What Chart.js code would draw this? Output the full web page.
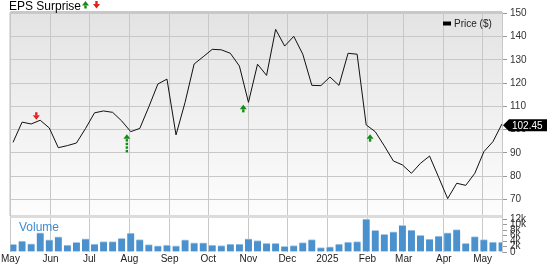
<!DOCTYPE html>
<html>
<head>
<meta charset="utf-8">
<style>
html, body { margin: 0; padding: 0; background: #fff; }
#wrap { width: 547px; height: 264px; }
</style>
</head>
<body>
<div id="wrap"><canvas id="myChart" width="547" height="264"></canvas></div>
<script src="https://cdn.jsdelivr.net/npm/chart.js@4/dist/chart.umd.min.js"></script>
<script>
// Weekly closing price and volume, May 2024 - May 2025
const startDate = '2024-05-01';
const firstWeek = '2024-05-03';
const prices = [94.5, 103.2, 102.4, 104.0, 100.7, 92.2, 93.1, 94.2, 100.4, 107.2,
    108.0, 107.4, 103.7, 99.1, 100.5, 109.8, 119.6, 121.7, 97.7, 111.7,
    128.2, 131.3, 134.5, 134.3, 132.8, 127.3, 111.7, 128.1, 123.3, 143.1,
    135.9, 140.1, 132.4, 119.0, 118.9, 122.6, 119.0, 132.8, 132.4, 102.0,
    99.1, 93.0, 86.5, 84.8, 81.2, 85.5, 88.6, 79.5, 70.3, 76.9,
    76.0, 81.2, 90.5, 94.8, 102.45];
const volumes = [2.8, 4.0, 3.0, 7.0, 4.4, 5.5, 2.5, 3.5, 4.8, 2.9,
    3.8, 3.8, 5.0, 6.9, 4.5, 2.7, 2.2, 2.5, 2.2, 4.4,
    3.3, 3.3, 2.5, 2.3, 2.9, 2.9, 4.8, 4.2, 3.2, 3.2,
    2.1, 2.3, 3.4, 4.5, 1.6, 1.9, 2.9, 3.6, 3.8, 12.0,
    7.9, 6.4, 7.3, 9.7, 8.0, 6.1, 4.7, 5.8, 7.0, 8.2,
    3.2, 5.6, 4.5, 3.6, 3.6];

// Axis ticks
const monthStarts = ['2024-05-01', '2024-06-01', '2024-07-01', '2024-08-01', '2024-09-01', '2024-10-01',
    '2024-11-01', '2024-12-01', '2025-01-01', '2025-02-01', '2025-03-01', '2025-04-01', '2025-05-01'];
const monthLabels = ['May', 'Jun', 'Jul', 'Aug', 'Sep', 'Oct', 'Nov', 'Dec', '2025', 'Feb', 'Mar', 'Apr', 'May'];
const priceTicks = [70, 80, 90, 100, 110, 120, 130, 140, 150];
const volumeTicks = [0, 2, 4, 6, 8, 10, 12];

// Earnings reports
const epsDates = ['2024-05-21', '2024-07-30', '2024-10-28', '2025-02-03'];
const epsResults = ['miss', 'beat', 'beat', 'beat'];
const epsDashed = [false, true, false, false];

const FONT = 'Arial, "Liberation Sans", sans-serif';
const GREEN = '#128c12';
const RED = '#e3201b';

// Days since start of the chart
function dayOf(d) {
    return (Date.parse(d) - Date.parse(startDate)) / 86400000;
}

const weekDays = prices.map((p, i) => dayOf(firstWeek) + 7 * i);
const monthDays = monthStarts.map(dayOf);

function drawArrow(c, x, tipY, up, color, dashed) {
    const dir = up ? 1 : -1;
    c.save();
    c.fillStyle = color;
    c.beginPath();
    c.moveTo(x, tipY);
    c.lineTo(x + 3.5, tipY + dir * 4.5);
    c.lineTo(x - 3.5, tipY + dir * 4.5);
    c.closePath();
    c.fill();
    if (dashed) {
        for (let k = 0; k < 4; k++) {
            const y0 = tipY + dir * (5 + k * 3.6);
            c.fillRect(x - 1.2, up ? y0 : y0 - 2.4, 2.4, 2.4);
        }
    } else {
        const y0 = tipY + dir * 4.5;
        c.fillRect(x - 1.2, up ? y0 : y0 - 3, 2.4, 3);
    }
    c.restore();
}

// Backgrounds, borders and overlays
const decorations = {
    id: 'decorations',
    beforeDraw(chart) {
        const c = chart.ctx;
        const a = chart.chartArea;
        const y = chart.scales.y;
        c.save();
        c.fillStyle = '#fff';
        c.fillRect(0, 0, chart.width, chart.height);
        const g = c.createLinearGradient(0, y.top, 0, y.bottom);
        g.addColorStop(0, '#e3e3e3');
        g.addColorStop(1, '#fdfdfd');
        c.fillStyle = g;
        c.fillRect(a.left, y.top, a.right - a.left, y.bottom - y.top);
        c.restore();
    },
    beforeDatasetsDraw(chart) {
        const c = chart.ctx;
        const a = chart.chartArea;
        const y = chart.scales.y;
        c.save();
        c.fillStyle = '#dcdcdc';
        c.fillRect(a.left, y.bottom - 1, a.right - a.left, 3);
        c.fillStyle = '#c8c8c8';
        c.fillRect(a.left, a.top - 1, a.right - a.left, 2);
        c.fillRect(a.left - 1, a.top, 1.5, y.bottom - a.top);
        // Volume label
        c.fillStyle = '#3f8ccf';
        c.font = '12px ' + FONT;
        c.textBaseline = 'alphabetic';
        c.fillText('Volume', 19, 231);
        c.restore();
    },
    afterDraw(chart) {
        const c = chart.ctx;
        const x = chart.scales.x;
        const y = chart.scales.y;
        c.save();
        // Title
        c.fillStyle = '#000';
        c.font = '12px ' + FONT;
        c.textBaseline = 'alphabetic';
        c.fillText('EPS Surprise', 9, 10);
        drawArrow(c, 85.5, 1, true, GREEN, false);
        drawArrow(c, 96.5, 8.5, false, RED, false);

        // Legend
        c.fillStyle = '#000';
        c.fillRect(443, 21.5, 8, 4);
        c.fillStyle = '#222';
        c.font = '10px ' + FONT;
        c.textBaseline = 'middle';
        c.fillText('Price ($)', 454, 24);

        // Last price tag
        const last = prices[prices.length - 1];
        const ly = y.getPixelForValue(last) + 1.5;
        c.fillStyle = '#000';
        c.beginPath();
        c.moveTo(503, ly);
        c.lineTo(509, ly - 6);
        c.lineTo(547, ly - 6);
        c.lineTo(547, ly + 6);
        c.lineTo(509, ly + 6);
        c.closePath();
        c.fill();
        c.fillStyle = '#fff';
        c.font = '10px ' + FONT;
        c.fillText(last.toFixed(2), 512, ly + 0.5);

        // Earnings arrows
        epsDates.forEach((d, k) => {
            const day = dayOf(d);
            let i = 0;
            while (i < weekDays.length - 2 && weekDays[i + 1] <= day) i++;
            const p1 = y.getPixelForValue(prices[i]);
            const p2 = y.getPixelForValue(prices[i + 1]);
            const px = x.getPixelForValue(day);
            if (epsResults[k] === 'beat') {
                drawArrow(c, px, Math.max(p1, p2) + 2.5, true, GREEN, epsDashed[k]);
            } else {
                drawArrow(c, px, Math.min(p1, p2) - 0.5, false, RED, false);
            }
        });
        c.restore();
    }
};

const ctx = document.getElementById('myChart').getContext('2d');

const myChart = new Chart(ctx, {
    data: {
        datasets: [{
            type: 'line',
            data: weekDays.map((d, i) => ({ x: d, y: prices[i] })),
            yAxisID: 'y',
            borderColor: '#111',
            borderWidth: 1,
            pointRadius: 0,
            tension: 0,
            order: 0
        }, {
            type: 'bar',
            data: weekDays.map((d, i) => ({ x: d, y: volumes[i] })),
            yAxisID: 'yv',
            backgroundColor: '#4b91cd',
            borderColor: '#a8cbea',
            borderWidth: { top: 1, left: 0, right: 0, bottom: 0 },
            borderSkipped: false,
            barThickness: 7,
            order: 1
        }]
    },
    options: {
        responsive: false,
        animation: false,
        layout: { padding: { left: 9, top: 12, right: 0, bottom: 0 } },
        plugins: {
            legend: { display: false },
            tooltip: { enabled: false }
        },
        scales: {
            x: {
                type: 'linear',
                offset: false,
                min: 0,
                max: weekDays[weekDays.length - 1],
                afterBuildTicks: (axis) => { axis.ticks = monthDays.map(v => ({ value: v })); },
                afterFit: (axis) => { axis.height = 12; },
                ticks: {
                    autoSkip: false,
                    maxRotation: 0,
                    padding: 1,
                    color: '#222',
                    font: { size: 10, family: FONT },
                    callback: (v, i) => monthLabels[i]
                },
                grid: { color: '#c8c8c8', drawTicks: false, offset: false },
                border: { display: false }
            },
            y: {
                position: 'right',
                stack: 'panes',
                stackWeight: 204,
                min: 62.82,
                max: 150.56,
                afterBuildTicks: (axis) => { axis.ticks = priceTicks.map(v => ({ value: v })); },
                afterFit: (axis) => { axis.width = 45; },
                ticks: {
                    autoSkip: false,
                    padding: 3,
                    color: '#333',
                    font: { size: 10, family: FONT }
                },
                grid: { color: '#c8c8c8', tickLength: 5, tickColor: '#999' },
                border: { color: '#c8c8c8' }
            },
            yv: {
                position: 'right',
                stack: 'panes',
                stackWeight: 36,
                min: 0,
                max: 13.1,
                afterBuildTicks: (axis) => { axis.ticks = volumeTicks.map(v => ({ value: v })); },
                afterFit: (axis) => { axis.width = 45; },
                ticks: {
                    autoSkip: false,
                    padding: 3,
                    color: '#333',
                    font: { size: 10, family: FONT },
                    callback: (v) => v === 0 ? '0' : v + 'k'
                },
                grid: { drawOnChartArea: false, tickLength: 5, tickColor: '#999' },
                border: { color: '#c8c8c8' }
            }
        }
    },
    plugins: [decorations]
});
</script>
</body>
</html>
